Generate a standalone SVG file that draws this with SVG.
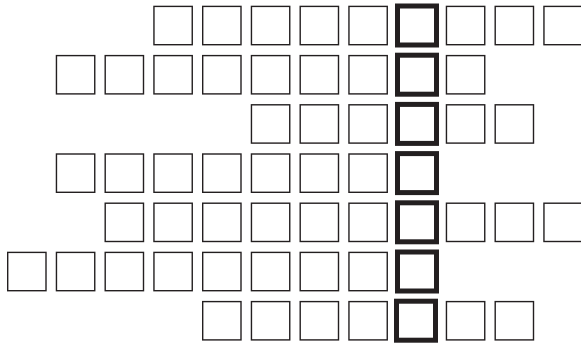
<svg xmlns="http://www.w3.org/2000/svg" width="581" height="343" viewBox="0 0 581 343">
<style>
.c{fill:#fff;stroke:#231f20;stroke-width:1.4}
.b{fill:#fff;stroke:#231f20;stroke-width:5}
</style>
<defs>
<rect id="s" class="c" width="38.3" height="38.3"/>
<rect id="k" class="b" width="39" height="39"/>
</defs>
<rect width="581" height="343" fill="#fff"/>
<g id="row0">
<use href="#s" x="153.95" y="6.4"/><use href="#s" x="202.7" y="6.4"/><use href="#s" x="251.45" y="6.4"/><use href="#s" x="300.2" y="6.4"/><use href="#s" x="348.95" y="6.4"/><use href="#k" x="397.5" y="6"/><use href="#s" x="446.45" y="6.4"/><use href="#s" x="495.2" y="6.4"/><use href="#s" x="543.95" y="6.4"/>
</g>
<g id="row1">
<use href="#s" x="56.45" y="55.6"/><use href="#s" x="105.2" y="55.6"/><use href="#s" x="153.95" y="55.6"/><use href="#s" x="202.7" y="55.6"/><use href="#s" x="251.45" y="55.6"/><use href="#s" x="300.2" y="55.6"/><use href="#s" x="348.95" y="55.6"/><use href="#k" x="397.5" y="55.2"/><use href="#s" x="446.45" y="55.6"/>
</g>
<g id="row2">
<use href="#s" x="251.45" y="104.8"/><use href="#s" x="300.2" y="104.8"/><use href="#s" x="348.95" y="104.8"/><use href="#k" x="397.5" y="104.4"/><use href="#s" x="446.45" y="104.8"/><use href="#s" x="495.2" y="104.8"/>
</g>
<g id="row3">
<use href="#s" x="56.45" y="154"/><use href="#s" x="105.2" y="154"/><use href="#s" x="153.95" y="154"/><use href="#s" x="202.7" y="154"/><use href="#s" x="251.45" y="154"/><use href="#s" x="300.2" y="154"/><use href="#s" x="348.95" y="154"/><use href="#k" x="397.5" y="153.6"/>
</g>
<g id="row4">
<use href="#s" x="105.2" y="203.2"/><use href="#s" x="153.95" y="203.2"/><use href="#s" x="202.7" y="203.2"/><use href="#s" x="251.45" y="203.2"/><use href="#s" x="300.2" y="203.2"/><use href="#s" x="348.95" y="203.2"/><use href="#k" x="397.5" y="202.8"/><use href="#s" x="446.45" y="203.2"/><use href="#s" x="495.2" y="203.2"/><use href="#s" x="543.95" y="203.2"/>
</g>
<g id="row5">
<use href="#s" x="7.7" y="252.4"/><use href="#s" x="56.45" y="252.4"/><use href="#s" x="105.2" y="252.4"/><use href="#s" x="153.95" y="252.4"/><use href="#s" x="202.7" y="252.4"/><use href="#s" x="251.45" y="252.4"/><use href="#s" x="300.2" y="252.4"/><use href="#s" x="348.95" y="252.4"/><use href="#k" x="397.5" y="252"/>
</g>
<g id="row6">
<use href="#s" x="202.7" y="301.6"/><use href="#s" x="251.45" y="301.6"/><use href="#s" x="300.2" y="301.6"/><use href="#s" x="348.95" y="301.6"/><use href="#k" x="396.5" y="301.2"/><use href="#s" x="446.45" y="301.6"/><use href="#s" x="495.2" y="301.6"/>
</g>
<g id="connectors"></g>
</svg>
